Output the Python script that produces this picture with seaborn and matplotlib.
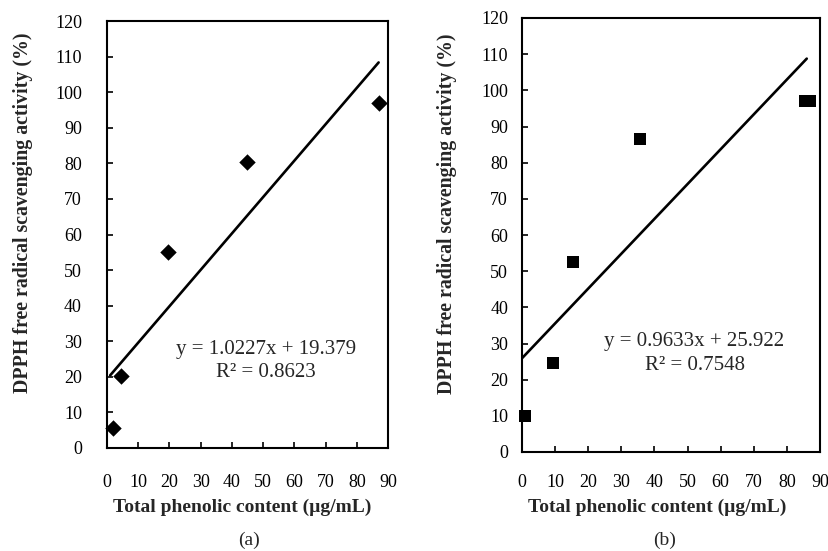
import numpy as np
import pandas as pd
import matplotlib.pyplot as plt
import seaborn as sns

# panel (a)
tpc_a = [2, 4.5, 19.5, 45, 87]
dpph_a = [5.5, 20.3, 55, 80.5, 97]
slope_a, icpt_a, r2_a = 1.0227, 19.379, 0.8623
fit_range_a = [1, 87]

# panel (b)
tpc_b = [1, 9.5, 15.5, 35.5, 85.5, 87]
dpph_b = [10, 24.5, 52.5, 86.5, 97, 97]
slope_b, icpt_b, r2_b = 0.9633, 25.922, 0.7548
fit_range_b = [0, 86]

xticks = list(range(0, 100, 10))
yticks = list(range(0, 130, 10))

sns.set_theme(style="white")
plt.rcParams['font.family'] = ['Liberation Serif', 'DejaVu Serif']

fig = plt.figure(figsize=(8.29, 5.51), dpi=100)
W, H = 829, 551


def make_axes(l, r, t, b):
    return fig.add_axes([l / W, 1 - b / H, (r - l) / W, (b - t) / H])


def panel(ax, x, y, slope, icpt, r2, frange, marker, msize, txt_pos,
          xpad, ypad, xlab_pos, ylab_pos):
    df = pd.DataFrame({"x": x, "y": y})
    sns.scatterplot(data=df, x="x", y="y", ax=ax, marker=marker, s=msize,
                    color="black", edgecolor="black", linewidth=0, zorder=3,
                    clip_on=False)
    fx = np.array(frange, dtype=float)
    fit = pd.DataFrame({"x": fx, "y": slope * fx + icpt})
    sns.lineplot(data=fit, x="x", y="y", ax=ax, color="black", linewidth=1.9)
    ax.set_xlim(0, 90)
    ax.set_ylim(0, 120)
    ax.set_xticks(xticks)
    ax.set_yticks(yticks)
    ax.tick_params(direction="in", length=4, width=1.2, colors="black",
                   labelsize=13, bottom=True, left=True)
    ax.tick_params(axis="x", pad=xpad)
    ax.tick_params(axis="y", pad=ypad)
    for s in ax.spines.values():
        s.set_color("black")
        s.set_linewidth(1.5)
    ax.set_xlabel("Total phenolic content (µg/mL)", fontsize=14,
                  fontweight="bold", va="center")
    ax.set_ylabel("DPPH free radical scavenging activity (%)", fontsize=14.3,
                  fontweight="bold", va="center")
    ax.xaxis.set_label_coords(*xlab_pos)
    ax.yaxis.set_label_coords(*ylab_pos)
    tx, ty1, ty2 = txt_pos
    ax.text(tx, ty1, f"y = {slope}x + {icpt}", ha="center", va="center", fontsize=15)
    ax.text(tx, ty2, f"R² = {r2}", ha="center", va="center", fontsize=15)


ax1 = make_axes(107, 388, 21, 448)
panel(ax1, tpc_a, dpph_a, slope_a, icpt_a, r2_a, fit_range_a, "D", 70,
      (50.9, 27.7, 21.3), 19, 18, (0.48, -0.138), (-0.30, 0.55))
ax2 = make_axes(522, 820, 18, 452)
panel(ax2, tpc_b, dpph_b, slope_b, icpt_b, r2_b, fit_range_b, "s", 85,
      (52.1, 30.5, 23.8), 16, 10, (0.455, -0.127), (-0.25, 0.55))

fig.text(249 / W, 1 - 540 / H, "(a)", ha="center", va="center", fontsize=14)
fig.text(665 / W, 1 - 540 / H, "(b)", ha="center", va="center", fontsize=14)

fig.savefig("out.png", dpi=100)
